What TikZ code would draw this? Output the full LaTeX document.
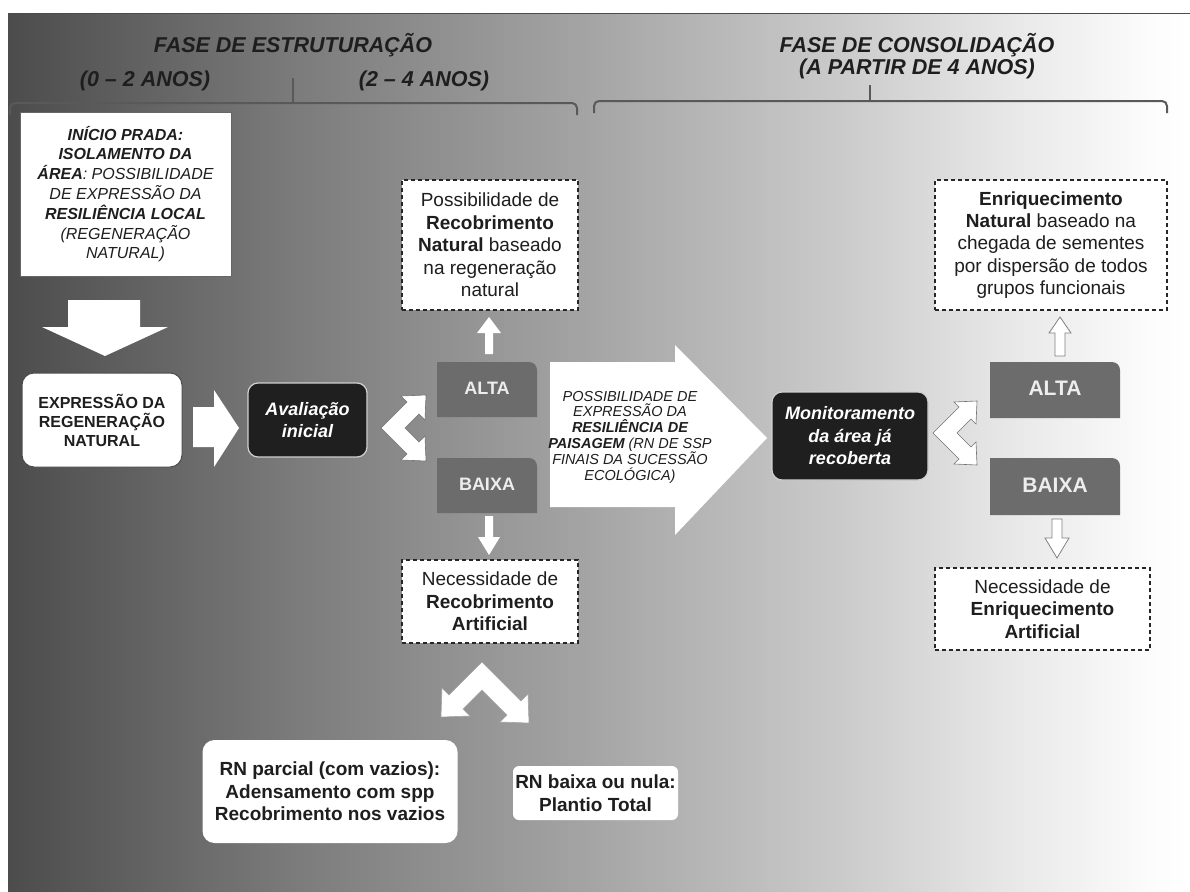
\documentclass[tikz,border=0pt]{standalone}
\usepackage{fontspec}
\setmainfont{Liberation Sans}
\definecolor{bg0}{RGB}{76,76,76}
\definecolor{bg1}{RGB}{124,124,124}
\definecolor{bg2}{RGB}{166,166,166}
\definecolor{bg3}{RGB}{204,204,204}
\definecolor{bg4}{RGB}{230,230,230}
\definecolor{bg5}{RGB}{252,252,252}
\definecolor{boxgray}{RGB}{108,108,108}
\definecolor{txt}{RGB}{30,30,30}
\newcommand\grayshape[4]{\fill[boxgray] (#1,#4) -- (#1,#2) -- ({#3-8},#2) .. controls ({#3-3.6},#2) and (#3,{#2+3.6}) .. (#3,{#2+8}) -- (#3,#4) -- cycle;}
\begin{document}
\begin{tikzpicture}[x=1pt,y=-1pt,
  title/.style={font=\fontsize{21.5}{24}\selectfont\bfseries\itshape, text=txt, inner sep=0},
  bracket/.style={draw=black!65, line width=2pt, rounded corners=5pt},
  dashbox/.style={draw=black!85, fill=white, line width=1.3pt, dash pattern=on 4pt off 3pt, inner sep=0, align=center, text=txt, font=\fontsize{19}{22.4}\selectfont},
  darkbox/.style={fill=black!88, draw=black!18, line width=1.2pt, rounded corners=10pt, text=white, font=\fontsize{18}{22.5}\selectfont\bfseries\itshape, align=center, inner sep=0},
  graytext/.style={inner sep=0, text=black!7, font=\fontsize{18}{20}\selectfont\bfseries},
  blockarrow/.style={fill=white, draw=none},
  outlinearrow/.style={fill=white, draw=black!50, line width=0.8pt},
  chevron/.style={fill=white, draw=black!55, line width=0.6pt},
  whiteround/.style={fill=white, rounded corners=12pt, inner sep=0, align=center, text=txt, font=\fontsize{19}{22.5}\selectfont\bfseries}
]
\useasboundingbox (0,0) rectangle (1190,891);
% background
\shade[left color=bg0, right color=bg1] (8,14) rectangle (300,891);
\shade[left color=bg1, right color=bg2] (299.5,14) rectangle (600,891);
\shade[left color=bg2, right color=bg3] (599.5,14) rectangle (850,891);
\shade[left color=bg3, right color=bg4] (849.5,14) rectangle (1000,891);
\shade[left color=bg4, right color=bg5] (999.5,14) rectangle (1150,891);
\shade[left color=bg5, right color=white] (1149.5,14) rectangle (1190,891);
\draw[black!70, line width=1pt] (1190,14) -- (8,14) -- (8,891);

% titles and brackets
\node[title] (t1) at (293,45) {FASE DE ESTRUTURAÇÃO};
\node[title] (t2) at (145,81) {(0 – 2 ANOS)};
\node[title] (t3) at (424,81) {(2 – 4 ANOS)};
\node[title] (t4) at (917,45) {FASE DE CONSOLIDAÇÃO};
\node[title] (t5) at (917,69) {(A PARTIR DE 4 ANOS)};
\draw[bracket] (10,115) -- (10,103) -- (577,103) -- (577,115);
\draw[bracket] (293,103) -- (293,78);
\draw[bracket] (594,113) -- (594,101) -- (1167,101) -- (1167,113);
\draw[bracket] (870,101) -- (870,85);

% left column
\node[fill=white, draw=black!60, line width=0.8pt, minimum width=211, minimum height=164, inner sep=0, align=center, text=txt,
      font=\fontsize{16}{19.8}\selectfont\itshape] (inicio) at (125.5,194)
  {\textbf{INÍCIO PRADA:}\\ \textbf{ISOLAMENTO DA}\\ \textbf{ÁREA}: POSSIBILIDADE\\ DE EXPRESSÃO DA\\ \textbf{RESILIÊNCIA LOCAL}\\ (REGENERAÇÃO\\ NATURAL)};
\fill[blockarrow] (68,300) -- (140,300) -- (140,327) -- (168,327) -- (105,356) -- (42,327) -- (68,327) -- cycle;
\node[fill=white, draw=black!70, line width=1pt, rounded corners=12pt, minimum width=160, minimum height=94, inner sep=0, align=center, text=txt,
      font=\fontsize{16}{19}\selectfont\bfseries] (expr) at (102,420) {EXPRESSÃO DA\\ REGENERAÇÃO\\ NATURAL};
\fill[blockarrow] (193,407) -- (214,407) -- (214,390) -- (239,428) -- (214,467) -- (214,447) -- (193,447) -- cycle;
\node[darkbox, minimum width=119, minimum height=74] (aval) at (307.5,420) {Avaliação\\ inicial};

% chevron from Avaliação to ALTA/BAIXA
\filldraw[chevron] (381,428) -- (407,402) -- (401,396) -- (426,395) -- (425,420) -- (419,414) -- (405,428)
  -- (419,442) -- (425,436) -- (426,461) -- (401,460) -- (407,454) -- cycle;

\grayshape{437}{362}{537}{417}
\grayshape{437}{458}{537}{513}
\node[graytext, minimum width=100, minimum height=55] (alta1) at (487,388) {ALTA};
\node[graytext, minimum width=100, minimum height=55] (baixa1) at (487,484) {BAIXA};

\fill[blockarrow] (485,354) -- (485,333) -- (477,333) -- (489,317) -- (501,333) -- (493,333) -- (493,354) -- cycle;
\fill[blockarrow] (485,516) -- (493,516) -- (493,537) -- (500,537) -- (489,555) -- (478,537) -- (485,537) -- cycle;

\node[dashbox, minimum width=176, minimum height=130] (dash1) at (490,245)
  {Possibilidade de\\ \textbf{Recobrimento}\\ \textbf{Natural} baseado\\ na regeneração\\ natural};
\node[dashbox, minimum width=176, minimum height=83] (dash2) at (490,601.5)
  {Necessidade de\\ \textbf{Recobrimento}\\ \textbf{Artificial}};

% chevron down to the two RN boxes
\filldraw[chevron, draw=black!35] (482,662) -- (521,701) -- (528,694) -- (529,723) -- (500,722) -- (507,715) -- (482,690)
  -- (463,709) -- (470,716) -- (441,717) -- (442,688) -- (449,695) -- cycle;

\node[whiteround, minimum width=255, minimum height=103] (rnp) at (330,791.5)
  {RN parcial (com vazios):\\ Adensamento com spp\\ Recobrimento nos vazios};
\node[whiteround, rounded corners=6pt, minimum width=165, minimum height=54] (rnb) at (595.5,793)
  {RN baixa ou nula:\\ Plantio Total};

% big arrow
\fill[blockarrow] (550,362) -- (675,362) -- (675,345) -- (767,438) -- (675,535) -- (675,507) -- (550,507) -- cycle;
\node[inner sep=0, align=center, text=txt, font=\fontsize{14.5}{15.8}\selectfont\itshape] (paisagem) at (630,437)
  {POSSIBILIDADE DE\\ EXPRESSÃO DA\\ \textbf{RESILIÊNCIA DE}\\ \textbf{PAISAGEM} (RN DE SSP\\ FINAIS DA SUCESSÃO\\ ECOLÓGICA)};

% right column
\node[darkbox, minimum width=156, minimum height=88] (monit) at (850,436) {Monitoramento\\ da área já\\ recoberta};
\filldraw[chevron] (933,433) -- (959,407) -- (954,402) -- (977,401) -- (976,424) -- (971,419) -- (957,433)
  -- (971,447) -- (976,442) -- (977,465) -- (954,464) -- (959,459) -- cycle;
\grayshape{990}{362}{1120}{418}
\grayshape{990}{458}{1120}{515}
\node[graytext, font=\fontsize{21}{23}\selectfont\bfseries, minimum width=130, minimum height=56] (alta2) at (1055,388) {ALTA};
\node[graytext, font=\fontsize{21}{23}\selectfont\bfseries, minimum width=130, minimum height=57] (baixa2) at (1055,485) {BAIXA};
\filldraw[outlinearrow] (1055,356) -- (1055,333) -- (1049,333) -- (1060,317) -- (1071,333) -- (1065,333) -- (1065,356) -- cycle;
\filldraw[outlinearrow] (1052,519) -- (1062,519) -- (1062,538) -- (1069,538) -- (1057,558) -- (1045,538) -- (1052,538) -- cycle;
\node[dashbox, minimum width=232, minimum height=130] (dash3) at (1051,245)
  {\textbf{Enriquecimento}\\ \textbf{Natural} baseado na\\ chegada de sementes\\ por dispersão de todos\\ grupos funcionais};
\node[dashbox, minimum width=215, minimum height=82] (dash4) at (1042.5,609)
  {Necessidade de\\ \textbf{Enriquecimento}\\ \textbf{Artificial}};
\end{tikzpicture}
\end{document}
